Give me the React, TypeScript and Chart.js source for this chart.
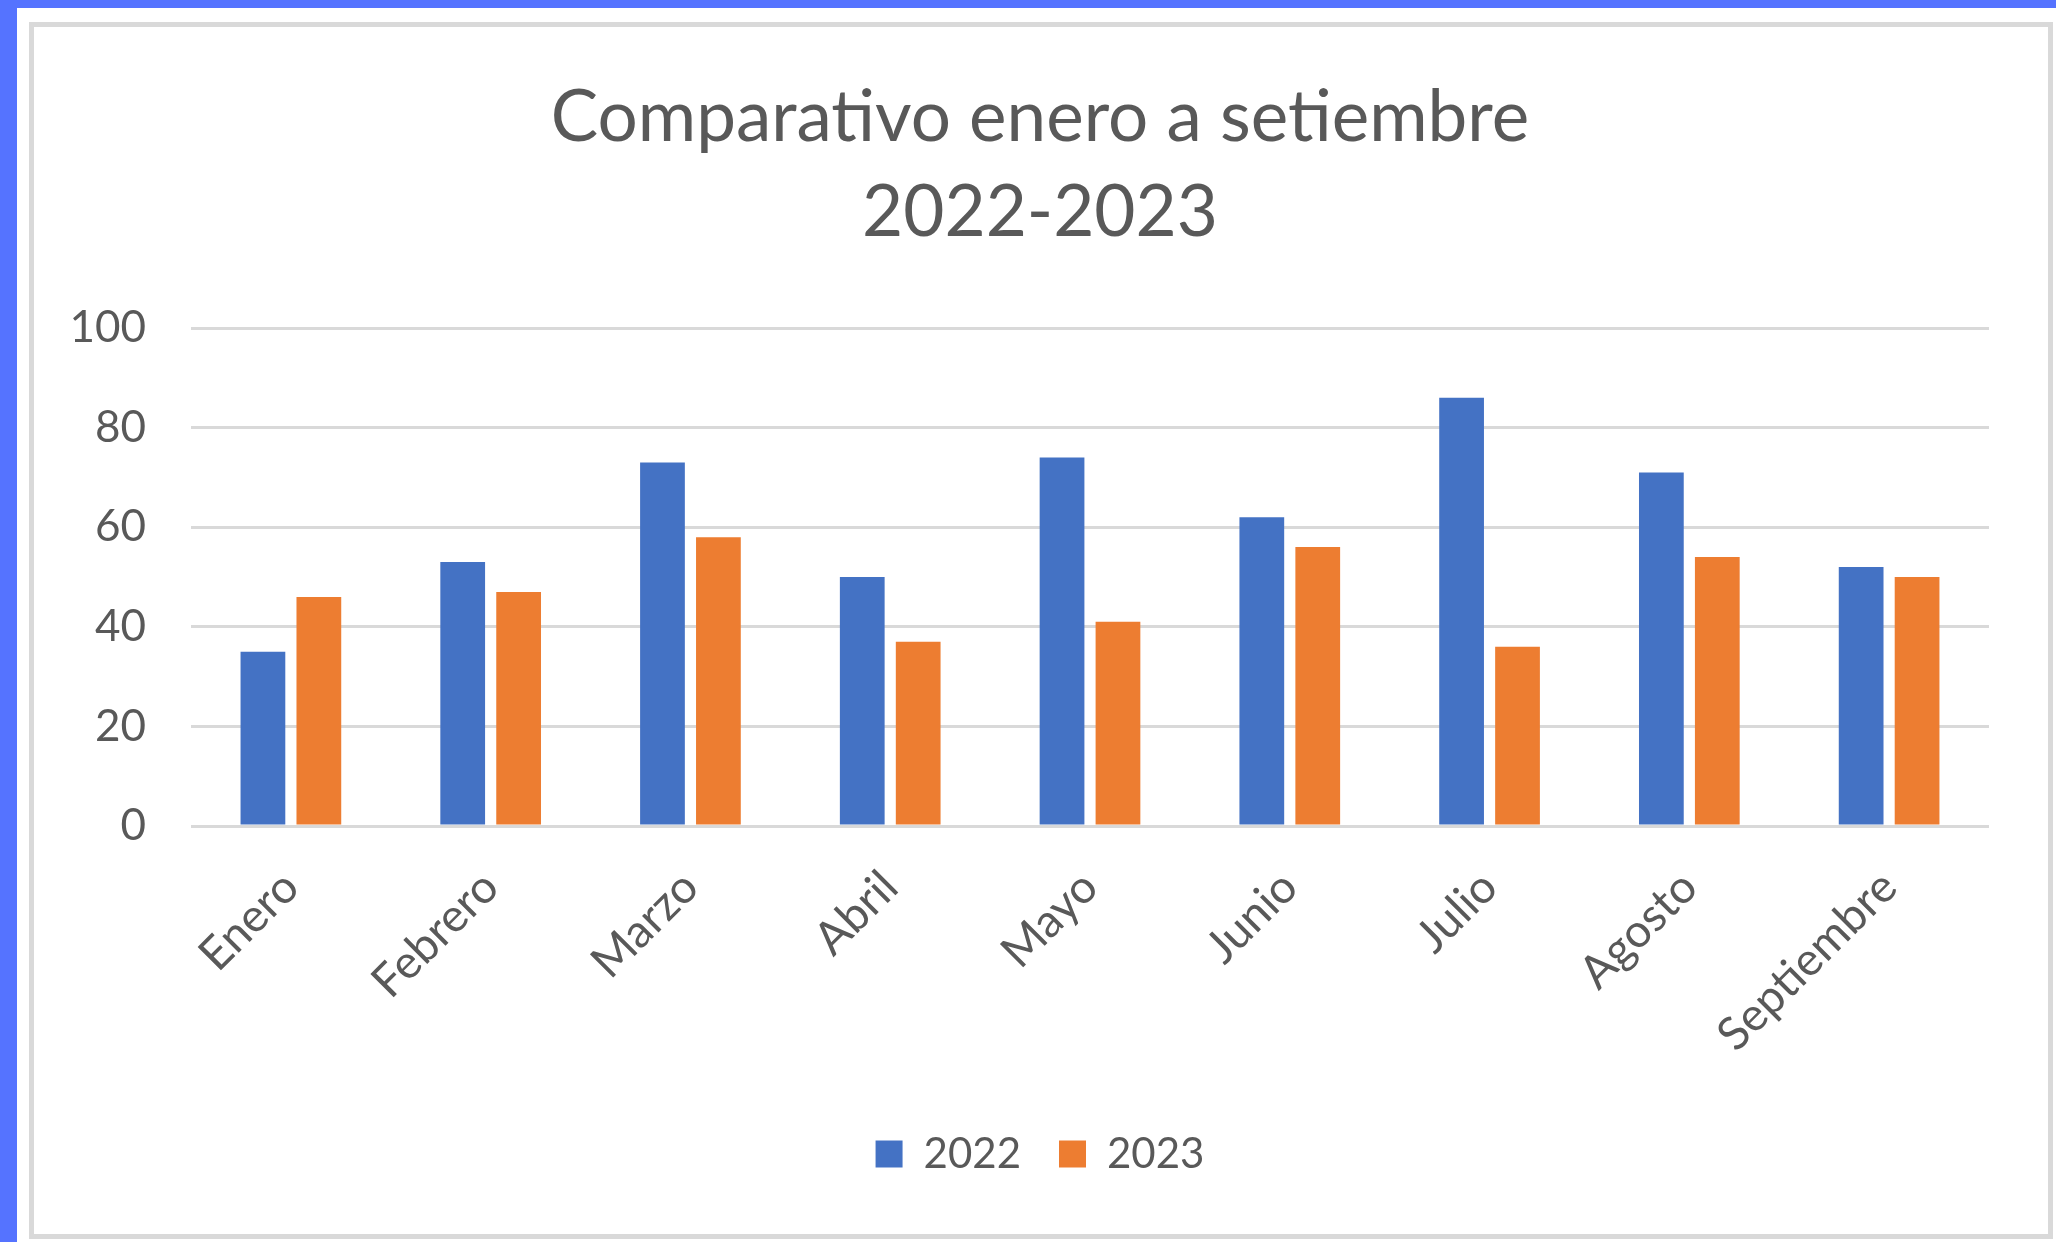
import React, { useEffect, useRef } from "react";
import { Chart, registerables } from "chart.js";

Chart.register(...registerables);

const categories = ["Enero", "Febrero", "Marzo", "Abril", "Mayo", "Junio", "Julio", "Agosto", "Septiembre"];
const values2022 = [35, 53, 73, 50, 74, 62, 86, 71, 52];
const values2023 = [46, 47, 58, 37, 41, 56, 36, 54, 50];
const seriesLabels = ["2022", "2023"];
const seriesColors = ["#4472C4", "#ED7D31"];
const titleLines = ["Comparativo enero a setiembre", "2022-2023"];
const yMin = 0;
const yMax = 100;
const yStep = 20;

const FONT = "Lato";
const TEXT = "#595959";

export default function App() {
  const ref = useRef<HTMLCanvasElement>(null);

  useEffect(() => {
    document.body.style.margin = "0";
    let chart: Chart | null = null;
    let cancelled = false;
    const make = () => {
      if (cancelled || !ref.current) return;
      chart = new Chart(ref.current, {
        type: "bar",
        data: {
          labels: categories,
          datasets: [
            { label: seriesLabels[0], data: values2022, backgroundColor: seriesColors[0], borderWidth: 0, barPercentage: 0.8, categoryPercentage: 0.56 },
            { label: seriesLabels[1], data: values2023, backgroundColor: seriesColors[1], borderWidth: 0, barPercentage: 0.8, categoryPercentage: 0.56 },
          ],
        },
        options: {
          responsive: false,
          animation: false,
          devicePixelRatio: 1,
          layout: { padding: { left: 34, right: 10, top: 28, bottom: 57 } },
          plugins: {
            title: {
              display: true,
              text: titleLines,
              color: TEXT,
              font: { family: FONT, size: 71, weight: "normal", lineHeight: 95 / 71 },
              padding: { top: 43, bottom: 67 },
            },
            legend: {
              position: "bottom",
              labels: {
                boxWidth: 27,
                boxHeight: 27,
                color: TEXT,
                padding: 38,
                font: { family: FONT, size: 42 },
              },
            },
            tooltip: { enabled: false },
          },
          scales: {
            x: {
              grid: { display: false, drawTicks: false },
              border: { display: false },
              ticks: { color: TEXT, font: { family: FONT, size: 46 }, minRotation: 45, maxRotation: 45, padding: 34 },
              afterFit: (s: any) => { s.height = 269; },
            },
            y: {
              min: yMin,
              max: yMax,
              ticks: { stepSize: yStep, color: TEXT, font: { family: FONT, size: 44 }, padding: 45 },
              grid: { color: "#D9D9D9", lineWidth: 3, drawTicks: false },
              border: { display: false },
              afterFit: (s: any) => { s.width = 157; },
            },
            y2: {
              type: "linear",
              position: "right",
              display: true,
              grid: { display: false, drawTicks: false },
              ticks: { display: false },
              border: { display: false },
              afterFit: (s: any) => { s.width = 57; },
            },
          },
        },
      });
    };
    document.fonts.load(`42px ${FONT}`).then(make, make);
    return () => {
      cancelled = true;
      if (chart) chart.destroy();
    };
  }, []);

  return (
    <div style={{ position: "relative", width: 2056, height: 1242, background: "#fff", overflow: "hidden" }}>
      <div style={{ position: "absolute", left: 0, top: 0, width: 2056, height: 8, background: "#5573FF" }} />
      <div style={{ position: "absolute", left: 0, top: 0, width: 17, height: 1242, background: "#5573FF" }} />
      <div style={{ position: "absolute", left: 29, top: 22, width: 2024, height: 1217, border: "5px solid #D9D9D9", boxSizing: "border-box" }} />
      <canvas ref={ref} width={2056} height={1242} style={{ position: "absolute", left: 0, top: 0, width: 2056, height: 1242 }} />
    </div>
  );
}
